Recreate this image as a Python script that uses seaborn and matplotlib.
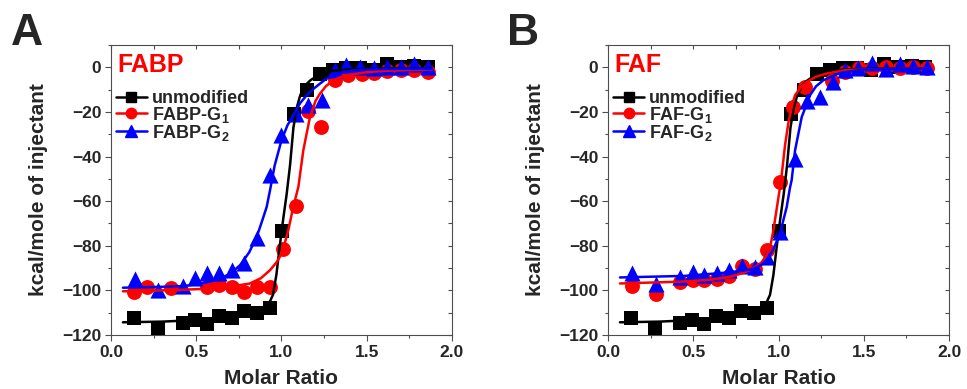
import matplotlib
matplotlib.use("Agg")
import matplotlib.pyplot as plt
from matplotlib.lines import Line2D
from matplotlib.ticker import MultipleLocator
import numpy as np
import seaborn as sns

# measured points (molar ratio, kcal/mole of injectant)
unmod_x = [0.137, 0.277, 0.42, 0.493, 0.561, 0.635, 0.708, 0.78, 0.858, 0.933, 1.005,
           1.075, 1.152, 1.226, 1.30, 1.38, 1.46, 1.54, 1.62, 1.70, 1.78, 1.86]
unmod_y = [-112.2, -117.0, -114.5, -113.3, -115.0, -111.5, -112.5, -109.3, -110.3, -107.8, -73.4,
           -20.8, -10.2, -2.8, -1.0, -0.1, -0.3, -1.0, 1.3, 0.1, 0.4, 0.1]

fabp1_x = [0.137, 0.209, 0.35, 0.565, 0.635, 0.711, 0.782, 0.858, 0.933, 1.006, 1.088,
           1.157, 1.230, 1.314, 1.39, 1.47, 1.54, 1.62, 1.70, 1.78, 1.86]
fabp1_y = [-100.9, -98.4, -98.8, -98.7, -97.6, -98.4, -100.9, -98.7, -98.4, -81.5, -62.1,
           -19.8, -26.7, -5.7, -3.6, -2.8, -2.4, -1.5, -1.0, -1.0, -2.0]

fabp2_x = [0.141, 0.277, 0.42, 0.493, 0.561, 0.635, 0.711, 0.782, 0.858, 0.933, 1.0,
           1.085, 1.157, 1.235, 1.314, 1.38, 1.46, 1.54, 1.62, 1.70, 1.78, 1.86]
fabp2_y = [-94.9, -99.9, -98.1, -94.3, -92.1, -92.4, -90.9, -87.9, -76.3, -48.4, -30.5,
           -21.0, -17.0, -14.5, -1.3, 0.9, 0.3, -0.3, 0.2, 0.1, 1.3, 0.1]

faf1_x = [0.143, 0.282, 0.422, 0.497, 0.565, 0.637, 0.711, 0.786, 0.86, 0.935, 1.009,
          1.087, 1.155, 1.312, 1.39, 1.47, 1.55, 1.63, 1.71, 1.79, 1.87]
faf1_y = [-98.1, -101.8, -96.1, -95.4, -95.4, -95.0, -93.7, -89.1, -90.2, -81.9, -51.4,
          -17.8, -8.8, -6.1, -2.1, -0.5, -0.3, 0.0, -0.2, 0.0, -0.5]

faf2_x = [0.143, 0.282, 0.422, 0.497, 0.565, 0.637, 0.711, 0.786, 0.86, 0.935, 1.009,
          1.097, 1.165, 1.243, 1.322, 1.39, 1.468, 1.55, 1.63, 1.71, 1.79, 1.87]
faf2_y = [-92.4, -97.2, -93.9, -91.7, -92.9, -92.4, -90.9, -89.1, -89.5, -84.9, -73.7,
          -40.9, -15.2, -13.3, -6.6, -1.0, -0.1, 1.9, -0.6, 1.3, 0.4, 0.0]

# fitted curves
unmod_fit_x = [0.07, 0.3, 0.5, 0.7, 0.8, 0.87, 0.92, 0.95, 0.97, 0.99, 1.01, 1.03, 1.05,
               1.07, 1.09, 1.11, 1.14, 1.17, 1.23, 1.3, 1.4, 1.6, 1.88]
unmod_fit_y = [-114.3, -114.0, -113.3, -112.0, -110.8, -109.3, -107.0, -102.0, -93.0, -80.0,
               -68.0, -57.0, -44.0, -27.0, -18.0, -12.5, -8.0, -5.8, -2.8, -1.6, -0.9, -0.5, -0.4]

fabp1_fit_x = [0.07, 0.3, 0.56, 0.7, 0.815, 0.88, 0.933, 0.97, 0.991, 1.015, 1.04, 1.069,
               1.099, 1.128, 1.167, 1.2, 1.226, 1.26, 1.304, 1.35, 1.402, 1.5, 1.6, 1.88]
fabp1_fit_y = [-100.4, -100.0, -99.3, -98.3, -96.9, -94.5, -90.9, -87.5, -84.9, -80.0, -73.0,
               -62.6, -53.6, -37.2, -22.3, -15.0, -11.8, -8.5, -5.8, -4.3, -3.3, -2.2, -1.6, -0.9]

fabp2_fit_x = [0.07, 0.25, 0.424, 0.52, 0.62, 0.7, 0.757, 0.81, 0.855, 0.89, 0.913, 0.933,
               0.96, 1.0, 1.035, 1.069, 1.11, 1.148, 1.19, 1.226, 1.26, 1.304, 1.36, 1.421,
               1.55, 1.88]
fabp2_fit_y = [-98.8, -98.5, -98.1, -97.0, -95.4, -92.5, -88.7, -83.0, -76.0, -68.0, -62.6,
               -55.0, -44.0, -32.7, -26.0, -21.5, -16.0, -12.5, -9.5, -7.3, -5.3, -3.6, -2.2,
               -1.3, -0.8, -0.6]

faf1_fit_x = [0.07, 0.422, 0.6, 0.716, 0.8, 0.852, 0.9, 0.931, 0.955, 0.97, 0.99, 1.009,
              1.019, 1.038, 1.057, 1.077, 1.097, 1.13, 1.165, 1.22, 1.283, 1.39, 1.55, 1.88]
faf1_fit_y = [-96.9, -96.1, -95.2, -93.9, -92.0, -90.1, -87.5, -84.2, -79.0, -73.0, -63.0,
              -53.6, -48.0, -35.0, -25.2, -17.5, -12.5, -9.0, -6.6, -4.2, -2.8, -1.3, -0.8, -0.5]

faf2_fit_x = [0.07, 0.45, 0.7, 0.8, 0.852, 0.9, 0.931, 0.97, 1.009, 1.03, 1.048, 1.067,
              1.077, 1.097, 1.136, 1.185, 1.22, 1.263, 1.36, 1.5, 1.88]
faf2_fit_y = [-94.2, -93.5, -92.0, -91.0, -90.5, -88.5, -86.4, -81.5, -74.5, -68.0, -62.6,
              -54.0, -50.6, -37.2, -22.3, -12.5, -8.5, -5.8, -2.5, -1.0, -0.5]

panels = [
    ("A", "FABP",
     [("unmodified", unmod_x, unmod_y, unmod_fit_x, unmod_fit_y),
      ("FABP-G$_1$", fabp1_x, fabp1_y, fabp1_fit_x, fabp1_fit_y),
      ("FABP-G$_2$", fabp2_x, fabp2_y, fabp2_fit_x, fabp2_fit_y)]),
    ("B", "FAF",
     [("unmodified", unmod_x, unmod_y, unmod_fit_x, unmod_fit_y),
      ("FAF-G$_1$", faf1_x, faf1_y, faf1_fit_x, faf1_fit_y),
      ("FAF-G$_2$", faf2_x, faf2_y, faf2_fit_x, faf2_fit_y)]),
]

colors = ["#000000", "#ff0000", "#0000ff"]
markers = ["s", "o", "^"]
sizes = [90, 115, 135]

sns.set_style("ticks")
plt.rcParams['font.family'] = ['Liberation Sans', 'DejaVu Sans']
plt.rcParams['font.weight'] = 'bold'
plt.rcParams['axes.labelweight'] = 'bold'
plt.rcParams['mathtext.fontset'] = 'custom'
plt.rcParams['mathtext.rm'] = 'Liberation Sans:bold'
plt.rcParams['mathtext.bf'] = 'Liberation Sans:bold'
plt.rcParams['mathtext.default'] = 'bf'

fig = plt.figure(figsize=(9.67, 3.89), dpi=100)
lefts = [0.1148, 0.6288]

for (tag, name, series), left in zip(panels, lefts):
    ax = fig.add_axes([left, 0.1388, 0.3526, 0.7455])

    for (lab, x, y, fx, fy), c, m, s in zip(series, colors, markers, sizes):
        sns.scatterplot(x=x, y=y, ax=ax, color=c, marker=m, s=s, linewidth=0, zorder=3)
    for (lab, x, y, fx, fy), c in zip(series, colors):
        sns.lineplot(x=fx, y=fy, ax=ax, color=c, lw=1.8, estimator=None, zorder=4)

    ax.set_xlim(0, 2.0)
    ax.set_ylim(-120, 10)
    ax.xaxis.set_major_locator(MultipleLocator(0.5))
    ax.xaxis.set_minor_locator(MultipleLocator(0.25))
    ax.yaxis.set_major_locator(MultipleLocator(20))
    ax.yaxis.set_minor_locator(MultipleLocator(10))
    ax.set_xticklabels([f"{v:.1f}" for v in ax.get_xticks()])
    ax.tick_params(which='major', direction='out', length=4, width=0.8, color='0.3',
                   labelsize=12.5, pad=3)
    ax.tick_params(which='minor', direction='out', length=2.5, width=0.8, color='0.3')
    for sp in ax.spines.values():
        sp.set_color('0.3')
        sp.set_linewidth(0.8)

    # mirrored ticks pointing inward on top and right
    top = ax.secondary_xaxis('top')
    top.xaxis.set_major_locator(MultipleLocator(0.5))
    top.xaxis.set_minor_locator(MultipleLocator(0.25))
    top.tick_params(which='both', direction='in', length=3, width=0.8, color='0.3',
                    labeltop=False)
    top.spines['top'].set_visible(False)
    right = ax.secondary_yaxis('right')
    right.yaxis.set_major_locator(MultipleLocator(20))
    right.yaxis.set_minor_locator(MultipleLocator(10))
    right.tick_params(which='both', direction='in', length=3, width=0.8, color='0.3',
                      labelright=False)
    right.spines['right'].set_visible(False)

    ax.set_xlabel("Molar Ratio", fontsize=15, labelpad=7)
    ax.set_ylabel("kcal/mole of injectant", fontsize=15, labelpad=10)

    ax.text(0.02, 0.93, name, transform=ax.transAxes, color='#ff0000',
            fontsize=18, fontweight='bold', ha='left', va='center')

    handles = [Line2D([], [], color=c, marker=m, markersize=ms, lw=1.8)
               for c, m, ms in zip(colors, markers, [7, 7.5, 8])]
    ax.legend(handles, [s[0] for s in series], loc='upper left',
              bbox_to_anchor=(0.015, 0.845), frameon=False, fontsize=13,
              handlelength=1.7, handletextpad=0.3, labelspacing=-0.12,
              borderpad=0, borderaxespad=0)

    fig.text(left - 0.104, 0.884, tag, fontsize=32, fontweight='bold',
             ha='left', va='baseline')

fig.savefig("out.png", dpi=100)
